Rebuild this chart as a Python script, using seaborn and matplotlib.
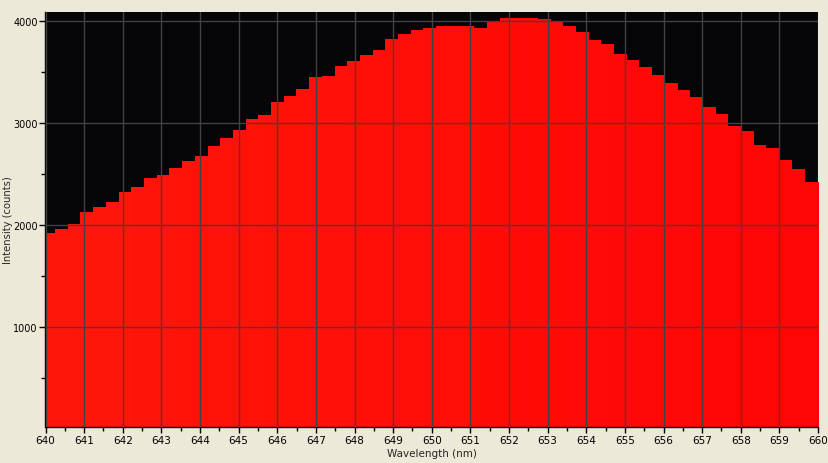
import numpy as np
import matplotlib
matplotlib.use("Agg")
import matplotlib.pyplot as plt
from matplotlib.ticker import MultipleLocator
import seaborn as sns
import pandas as pd

wavelengths = [640.08, 640.41, 640.74, 641.07, 641.40, 641.73, 642.06, 642.39, 642.71, 643.04,
               643.37, 643.70, 644.03, 644.36, 644.69, 645.02, 645.35, 645.67, 646.00, 646.33,
               646.66, 646.99, 647.32, 647.65, 647.98, 648.31, 648.63, 648.96, 649.29, 649.62,
               649.95, 650.28, 650.61, 650.94, 651.27, 651.59, 651.92, 652.25, 652.58, 652.91,
               653.24, 653.57, 653.90, 654.23, 654.55, 654.88, 655.21, 655.54, 655.87, 656.20,
               656.53, 656.86, 657.19, 657.51, 657.84, 658.17, 658.50, 658.83, 659.16, 659.49,
               659.82]
intensity = [1926, 1966, 2012, 2132, 2181, 2230, 2328, 2377, 2466, 2495,
             2564, 2632, 2681, 2779, 2858, 2936, 3044, 3083, 3211, 3270,
             3338, 3456, 3466, 3564, 3613, 3672, 3721, 3828, 3877, 3917,
             3936, 3956, 3956, 3956, 3936, 3995, 4034, 4034, 4034, 4024,
             3995, 3956, 3897, 3819, 3779, 3681, 3623, 3554, 3475, 3397,
             3328, 3260, 3162, 3093, 2975, 2926, 2789, 2760, 2642, 2554,
             2426]
x_ticks = list(range(640, 661))
y_ticks = [1000, 2000, 3000, 4000]

df = pd.DataFrame({"wavelength": wavelengths, "intensity": intensity})

sns.set_style("white")
plt.rcParams['font.family'] = ['DejaVu Sans']

fig = plt.figure(figsize=(8.29, 4.64), dpi=100, facecolor="#ECE9D8")
ax = fig.add_axes([45.5 / 829, 1 - 428 / 464, (818 - 45.5) / 829, (428 - 13) / 464])
ax.set_facecolor("#050508")

w = np.asarray(wavelengths)
mids = (w[:-1] + w[1:]) / 2
edges = [float(v) for v in np.concatenate([[w[0] - (mids[0] - w[0]) - 0.2], mids,
                                           [w[-1] + (w[-1] - mids[-1]) + 0.2]])]

sns.histplot(data=df, x="wavelength", weights="intensity", bins=edges,
             element="step", fill=True, color="#FF0505", alpha=1.0,
             linewidth=0, ax=ax, zorder=1)

# subtle horizontal colour gradient inside the filled area
poly = ax.collections[0]
grad = np.linspace(0, 1, 256)[None, :]
rgb = np.zeros((1, 256, 3))
rgb[..., 0] = 1.0
rgb[..., 1] = 0.09 - 0.07 * grad
rgb[..., 2] = 0.04 - 0.02 * grad
im = ax.imshow(rgb, extent=(640, 660, 0, 4200), aspect="auto", zorder=1.5,
               interpolation="bilinear")
im.set_clip_path(poly.get_paths()[0], transform=poly.get_transform())

ax.set_xlim(640, 660)
ax.set_ylim(20, 4092)

ax.set_xticks(x_ticks)
ax.set_yticks(y_ticks)
ax.xaxis.set_minor_locator(MultipleLocator(0.5))
ax.yaxis.set_minor_locator(MultipleLocator(500))
ax.grid(True, which="major", color="#414141", linewidth=1.0, zorder=2)
ax.set_axisbelow(False)

ax.tick_params(axis="both", which="major", direction="out", length=4, width=1,
               color="black", labelsize=7, labelcolor="black", pad=1.5, bottom=True, left=True)
ax.tick_params(axis="x", which="major", labelsize=7.5, pad=2)
ax.tick_params(axis="both", which="minor", direction="out", length=3, width=1,
               color="black", bottom=True, left=True)

for s in ["top", "right"]:
    ax.spines[s].set_visible(False)
for s in ["left", "bottom"]:
    ax.spines[s].set_color("black")
    ax.spines[s].set_linewidth(1)

ax.set_xlabel("Wavelength (nm)", fontsize=7.5)
ax.set_ylabel("Intensity (counts)", fontsize=7.2)
ax.xaxis.set_label_coords(0.5, -(454 - 428) / 415, transform=ax.transAxes)
ax.xaxis.label.set_va("center")
ax.yaxis.set_label_coords(-(45.5 - 8.5) / 772.5, 0.5, transform=ax.transAxes)
ax.yaxis.label.set_va("center")

fig.savefig("out.png", dpi=100, facecolor=fig.get_facecolor())
